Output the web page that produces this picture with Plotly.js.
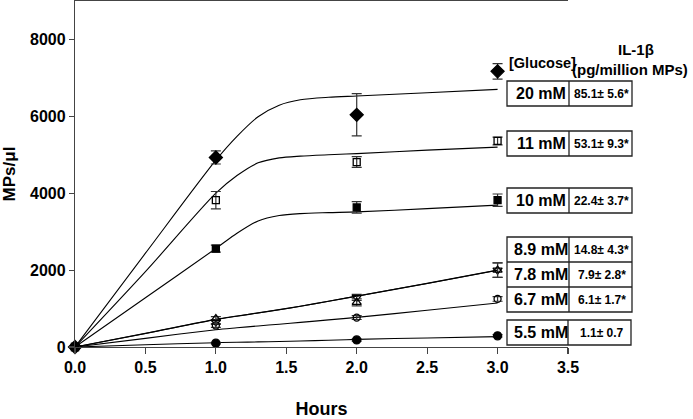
<!DOCTYPE html>
<html>
<head>
<meta charset="utf-8">
<script src="https://cdn.plot.ly/plotly-3.0.1.min.js"></script>
<style>
  html, body { margin: 0; padding: 0; background: #fff; }
  #chart { width: 693px; height: 419px; }
</style>
</head>
<body>
<div id="chart"></div>
<script>
// ---- Data ----
const hours = [0, 1, 2, 3];
const glucose = ['20 mM', '11 mM', '10 mM', '8.9 mM', '7.8 mM', '6.7 mM', '5.5 mM'];
const il1b = ['85.1± 5.6*', '53.1± 9.3*', '22.4± 3.7*', '14.8± 4.3*', '7.9± 2.8*', '6.1± 1.7*', '1.1± 0.7'];

const mps20 = [0, 4930, 6040, 7170];
const err20 = [0, 170, 550, 200];
const mps11 = [0, 3820, 4810, 5360];
const err11 = [0, 225, 140, 100];
const mps10 = [0, 2560, 3630, 3820];
const err10 = [0, 90, 150, 160];
const mps89 = [0, 650, 1290, 2000];
const err89 = [0, 60, 80, 190];
const mps78 = [0, 740, 1160, 2000];
const err78 = [0, 50, 90, 190];
const mps67 = [0, 560, 765, 1250];
const err67 = [0, 50, 50, 60];
const mps55 = [0, 100, 185, 290];
const err55 = [0, 20, 30, 30];

// fitted curves
const fitHours = [0, 0.5, 1, 1.15, 1.3, 1.45, 1.6, 1.8, 2, 2.5, 3];
const fit20 = [0, 2440, 4860, 5480, 5990, 6290, 6430, 6495, 6530, 6615, 6700];
const fit11 = [0, 1960, 4000, 4460, 4790, 4920, 4965, 5000, 5030, 5120, 5200];
const fit10 = [0, 1280, 2563, 2960, 3280, 3420, 3470, 3495, 3514, 3600, 3690];
const fit89 = [0, 355, 719, 805, 888, 972, 1062, 1190, 1324, 1655, 2000];
const fit78 = [0, 352, 715, 801, 885, 969, 1059, 1188, 1322, 1652, 1995];
const fit67 = [0, 225, 450, 500, 548, 593, 640, 705, 771, 955, 1143];
const fit55 = [0, 58, 112, 123, 133, 143, 155, 175, 199, 235, 270];

const seriesY = [mps20, mps11, mps10, mps89, mps78, mps67, mps55];
const seriesErr = [err20, err11, err10, err89, err78, err67, err55];
const seriesFit = [fit20, fit11, fit10, fit89, fit78, fit67, fit55];
const symbols = ['diamond', 'square-open', 'square', 'triangle-down-open', 'triangle-up-open', 'circle-open', 'circle'];
const symSizes = [10, 7, 7, 8, 8, 7, 8];

const FONT = 'Liberation Sans, Arial, Helvetica, sans-serif';
const AX = '#444';

const traces = [];
seriesFit.forEach((f, i) => {
  traces.push({
    x: fitHours, y: f, type: 'scatter', mode: 'lines',
    line: { color: '#000', width: 1.1, shape: 'spline', smoothing: 0.8 },
    hoverinfo: 'skip', showlegend: false, cliponaxis: false
  });
});
seriesY.forEach((y, i) => {
  traces.push({
    x: hours, y: y, type: 'scatter', mode: 'markers', name: glucose[i],
    marker: { symbol: symbols[i], size: symSizes[i], color: '#000', line: { color: '#000', width: 1.3 } },
    error_y: { type: 'data', array: seriesErr[i], visible: true, color: '#333', thickness: 1.2, width: 5 },
    showlegend: false, cliponaxis: false
  });
});

// plot area in pixels: x 75..568, y 1..347
const L = 75, R = 568, T = 1, B = 347;
const px = v => (v - L) / (R - L);
const py = v => (B - v) / (B - T);

const shapes = [];
const annotations = [];
function box(x0, x1, y0, y1) {
  shapes.push({ type: 'rect', xref: 'paper', yref: 'paper', x0: px(x0), x1: px(x1), y0: py(y1), y1: py(y0),
    line: { color: '#222', width: 1.3 }, fillcolor: 'rgba(0,0,0,0)' });
}
function vline(x, y0, y1) {
  shapes.push({ type: 'line', xref: 'paper', yref: 'paper', x0: px(x), x1: px(x), y0: py(y1), y1: py(y0),
    line: { color: '#222', width: 1.3 } });
}
function hline(x0, x1, y) {
  shapes.push({ type: 'line', xref: 'paper', yref: 'paper', x0: px(x0), x1: px(x1), y0: py(y), y1: py(y),
    line: { color: '#222', width: 1.3 } });
}
function txt(text, x, y, size, anchor) {
  annotations.push({ text: text, xref: 'paper', yref: 'paper', x: px(x), y: py(y),
    xanchor: anchor || 'center', yanchor: 'middle', showarrow: false,
    font: { family: FONT, size: size, color: '#000', weight: 'bold' } });
}

// row boxes: [top, bottom] in px
const rows = [[81, 106], [131, 156], [188, 213], [237, 262], [262, 287], [287, 312], [320, 345]];
const bx0 = 507, bdiv = 569, bx1 = 632;
box(bx0, bx1, 81, 106);
box(bx0, bx1, 131, 156);
box(bx0, bx1, 188, 213);
box(bx0, bx1, 237, 312);
hline(bx0, bx1, 262);
hline(bx0, bx1, 287);
box(bx0, bx1 - 1, 320, 345);
vline(bdiv, 81, 106);
vline(bdiv, 131, 156);
vline(bdiv, 188, 213);
vline(bdiv, 237, 312);
vline(bdiv - 1, 320, 345);

rows.forEach((r, i) => {
  const yc = (r[0] + r[1]) / 2;
  txt('<b>' + glucose[i] + '</b>', (bx0 + bdiv) / 2 + 3, yc, 16);
  txt('<b>' + il1b[i] + '</b>', (bdiv + bx1) / 2 + 1, yc, 12);
});

txt('<b>[Glucose]</b>', 507, 63, 14.5, 'left');
txt('<b>IL-1β</b>', 636, 49, 15);
txt('<b>(pg/million MPs)</b>', 570, 69, 15, 'left');

const layout = {
  width: 693, height: 419,
  margin: { l: L, r: 693 - R, t: T, b: 419 - B },
  paper_bgcolor: '#fff', plot_bgcolor: '#fff',
  showlegend: false,
  font: { family: FONT, color: '#000' },
  xaxis: {
    range: [0, 3.5], tickvals: [0, 0.5, 1, 1.5, 2, 2.5, 3, 3.5], tickformat: '.1f',
    showline: true, linecolor: AX, linewidth: 1.2, mirror: true,
    ticks: 'outside', ticklen: 6, tickwidth: 1.2, tickcolor: AX,
    showgrid: false, zeroline: false, automargin: false,
    tickfont: { family: FONT, size: 16, color: '#000', weight: 'bold' },
    title: { text: '<b>Hours</b>', font: { family: FONT, size: 18, color: '#000' }, standoff: 30 }
  },
  yaxis: {
    range: [0, 9000], tickvals: [0, 2000, 4000, 6000, 8000], tickformat: 'd',
    showline: true, linecolor: AX, linewidth: 1.2,
    ticks: 'outside', ticklen: 5, tickwidth: 1.2, tickcolor: AX,
    showgrid: false, zeroline: false, automargin: false,
    tickfont: { family: FONT, size: 16, color: '#000', weight: 'bold' },
    title: { text: '<b>MPs/μl</b>', font: { family: FONT, size: 17, color: '#000' }, standoff: 12 }
  },
  shapes: shapes,
  annotations: annotations
};

Plotly.newPlot('chart', traces, layout, { displayModeBar: false, staticPlot: true });
</script>
</body>
</html>
